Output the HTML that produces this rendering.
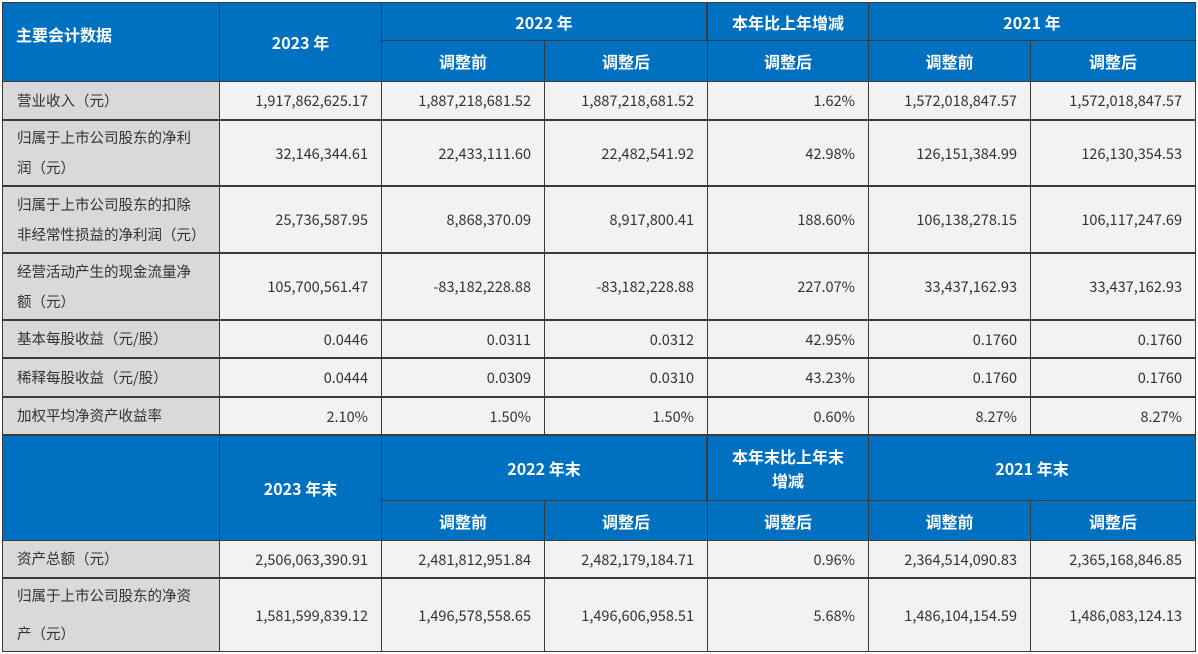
<!DOCTYPE html>
<html><head><meta charset="utf-8"><style>
body{margin:0;width:1198px;height:654px;background:#fff;overflow:hidden;font-family:"Noto Sans CJK SC","Liberation Sans",sans-serif;}
#t{position:absolute;left:2px;top:2px;width:1194px;height:650px;background:#3a3a3a;}
.c{position:absolute;box-sizing:border-box;display:flex;align-items:center;font-size:14.5px;color:#333;}
.h{background:#0070c0;color:#fff;font-weight:bold;font-size:16px;justify-content:center;text-align:center;line-height:24px;}
.l{background:#d9d9d9;padding-left:14px;line-height:30px;}
.n{background:#f2f2f2;justify-content:flex-end;padding-right:13px;}
</style></head><body><div id="t">
<div class="c h" style="left:1px;top:1px;width:216px;height:78px;align-items:flex-start;justify-content:flex-start;padding:19px 0 0 13px">主要会计数据</div>
<div class="c h" style="left:218px;top:1px;width:161px;height:78px">2023 年</div>
<div class="c h" style="left:380px;top:1px;width:324px;height:37px">2022 年</div>
<div class="c h" style="left:706px;top:1px;width:160px;height:37px">本年比上年增减</div>
<div class="c h" style="left:867px;top:1px;width:326px;height:37px">2021 年</div>
<div class="c h" style="left:380px;top:39px;width:162px;height:40px">调整前</div>
<div class="c h" style="left:543px;top:39px;width:162px;height:40px">调整后</div>
<div class="c h" style="left:706px;top:39px;width:160px;height:40px">调整后</div>
<div class="c h" style="left:867px;top:39px;width:161px;height:40px">调整前</div>
<div class="c h" style="left:1029px;top:39px;width:164px;height:40px">调整后</div>

<div class="c l" style="left:1px;top:80px;width:216px;height:37px">营业收入（元）</div>
<div class="c n" style="left:218px;top:80px;width:161px;height:37px">1,917,862,625.17</div>
<div class="c n" style="left:380px;top:80px;width:162px;height:37px">1,887,218,681.52</div>
<div class="c n" style="left:543px;top:80px;width:162px;height:37px">1,887,218,681.52</div>
<div class="c n" style="left:706px;top:80px;width:160px;height:37px">1.62%</div>
<div class="c n" style="left:867px;top:80px;width:161px;height:37px">1,572,018,847.57</div>
<div class="c n" style="left:1029px;top:80px;width:164px;height:37px">1,572,018,847.57</div>

<div class="c l" style="left:1px;top:119px;width:216px;height:64px">归属于上市公司股东的净利<br>润（元）</div>
<div class="c n" style="left:218px;top:119px;width:161px;height:64px">32,146,344.61</div>
<div class="c n" style="left:380px;top:119px;width:162px;height:64px">22,433,111.60</div>
<div class="c n" style="left:543px;top:119px;width:162px;height:64px">22,482,541.92</div>
<div class="c n" style="left:706px;top:119px;width:160px;height:64px">42.98%</div>
<div class="c n" style="left:867px;top:119px;width:161px;height:64px">126,151,384.99</div>
<div class="c n" style="left:1029px;top:119px;width:164px;height:64px">126,130,354.53</div>

<div class="c l" style="left:1px;top:185px;width:216px;height:65px">归属于上市公司股东的扣除<br>非经常性损益的净利润（元）</div>
<div class="c n" style="left:218px;top:185px;width:161px;height:65px">25,736,587.95</div>
<div class="c n" style="left:380px;top:185px;width:162px;height:65px">8,868,370.09</div>
<div class="c n" style="left:543px;top:185px;width:162px;height:65px">8,917,800.41</div>
<div class="c n" style="left:706px;top:185px;width:160px;height:65px">188.60%</div>
<div class="c n" style="left:867px;top:185px;width:161px;height:65px">106,138,278.15</div>
<div class="c n" style="left:1029px;top:185px;width:164px;height:65px">106,117,247.69</div>

<div class="c l" style="left:1px;top:252px;width:216px;height:65px">经营活动产生的现金流量净<br>额（元）</div>
<div class="c n" style="left:218px;top:252px;width:161px;height:65px">105,700,561.47</div>
<div class="c n" style="left:380px;top:252px;width:162px;height:65px">-83,182,228.88</div>
<div class="c n" style="left:543px;top:252px;width:162px;height:65px">-83,182,228.88</div>
<div class="c n" style="left:706px;top:252px;width:160px;height:65px">227.07%</div>
<div class="c n" style="left:867px;top:252px;width:161px;height:65px">33,437,162.93</div>
<div class="c n" style="left:1029px;top:252px;width:164px;height:65px">33,437,162.93</div>

<div class="c l" style="left:1px;top:319px;width:216px;height:36px">基本每股收益（元/股）</div>
<div class="c n" style="left:218px;top:319px;width:161px;height:36px">0.0446</div>
<div class="c n" style="left:380px;top:319px;width:162px;height:36px">0.0311</div>
<div class="c n" style="left:543px;top:319px;width:162px;height:36px">0.0312</div>
<div class="c n" style="left:706px;top:319px;width:160px;height:36px">42.95%</div>
<div class="c n" style="left:867px;top:319px;width:161px;height:36px">0.1760</div>
<div class="c n" style="left:1029px;top:319px;width:164px;height:36px">0.1760</div>

<div class="c l" style="left:1px;top:357px;width:216px;height:37px">稀释每股收益（元/股）</div>
<div class="c n" style="left:218px;top:357px;width:161px;height:37px">0.0444</div>
<div class="c n" style="left:380px;top:357px;width:162px;height:37px">0.0309</div>
<div class="c n" style="left:543px;top:357px;width:162px;height:37px">0.0310</div>
<div class="c n" style="left:706px;top:357px;width:160px;height:37px">43.23%</div>
<div class="c n" style="left:867px;top:357px;width:161px;height:37px">0.1760</div>
<div class="c n" style="left:1029px;top:357px;width:164px;height:37px">0.1760</div>

<div class="c l" style="left:1px;top:396px;width:216px;height:36px">加权平均净资产收益率</div>
<div class="c n" style="left:218px;top:396px;width:161px;height:36px">2.10%</div>
<div class="c n" style="left:380px;top:396px;width:162px;height:36px">1.50%</div>
<div class="c n" style="left:543px;top:396px;width:162px;height:36px">1.50%</div>
<div class="c n" style="left:706px;top:396px;width:160px;height:36px">0.60%</div>
<div class="c n" style="left:867px;top:396px;width:161px;height:36px">8.27%</div>
<div class="c n" style="left:1029px;top:396px;width:164px;height:36px">8.27%</div>

<div class="c h" style="left:1px;top:434px;width:216px;height:104px"></div>
<div class="c h" style="left:218px;top:434px;width:161px;height:104px">2023 年末</div>
<div class="c h" style="left:380px;top:434px;width:324px;height:64px">2022 年末</div>
<div class="c h" style="left:706px;top:434px;width:160px;height:64px">本年末比上年末<br>增减</div>
<div class="c h" style="left:867px;top:434px;width:326px;height:64px">2021 年末</div>
<div class="c h" style="left:380px;top:499px;width:162px;height:39px">调整前</div>
<div class="c h" style="left:543px;top:499px;width:162px;height:39px">调整后</div>
<div class="c h" style="left:706px;top:499px;width:160px;height:39px">调整后</div>
<div class="c h" style="left:867px;top:499px;width:161px;height:39px">调整前</div>
<div class="c h" style="left:1029px;top:499px;width:164px;height:39px">调整后</div>

<div class="c l" style="left:1px;top:539px;width:216px;height:36px">资产总额（元）</div>
<div class="c n" style="left:218px;top:539px;width:161px;height:36px">2,506,063,390.91</div>
<div class="c n" style="left:380px;top:539px;width:162px;height:36px">2,481,812,951.84</div>
<div class="c n" style="left:543px;top:539px;width:162px;height:36px">2,482,179,184.71</div>
<div class="c n" style="left:706px;top:539px;width:160px;height:36px">0.96%</div>
<div class="c n" style="left:867px;top:539px;width:161px;height:36px">2,364,514,090.83</div>
<div class="c n" style="left:1029px;top:539px;width:164px;height:36px">2,365,168,846.85</div>

<div class="c l" style="left:1px;top:577px;width:216px;height:72px;line-height:38px">归属于上市公司股东的净资<br>产（元）</div>
<div class="c n" style="left:218px;top:577px;width:161px;height:72px">1,581,599,839.12</div>
<div class="c n" style="left:380px;top:577px;width:162px;height:72px">1,496,578,558.65</div>
<div class="c n" style="left:543px;top:577px;width:162px;height:72px">1,496,606,958.51</div>
<div class="c n" style="left:706px;top:577px;width:160px;height:72px">5.68%</div>
<div class="c n" style="left:867px;top:577px;width:161px;height:72px">1,486,104,154.59</div>
<div class="c n" style="left:1029px;top:577px;width:164px;height:72px">1,486,083,124.13</div>
</div></body></html>
